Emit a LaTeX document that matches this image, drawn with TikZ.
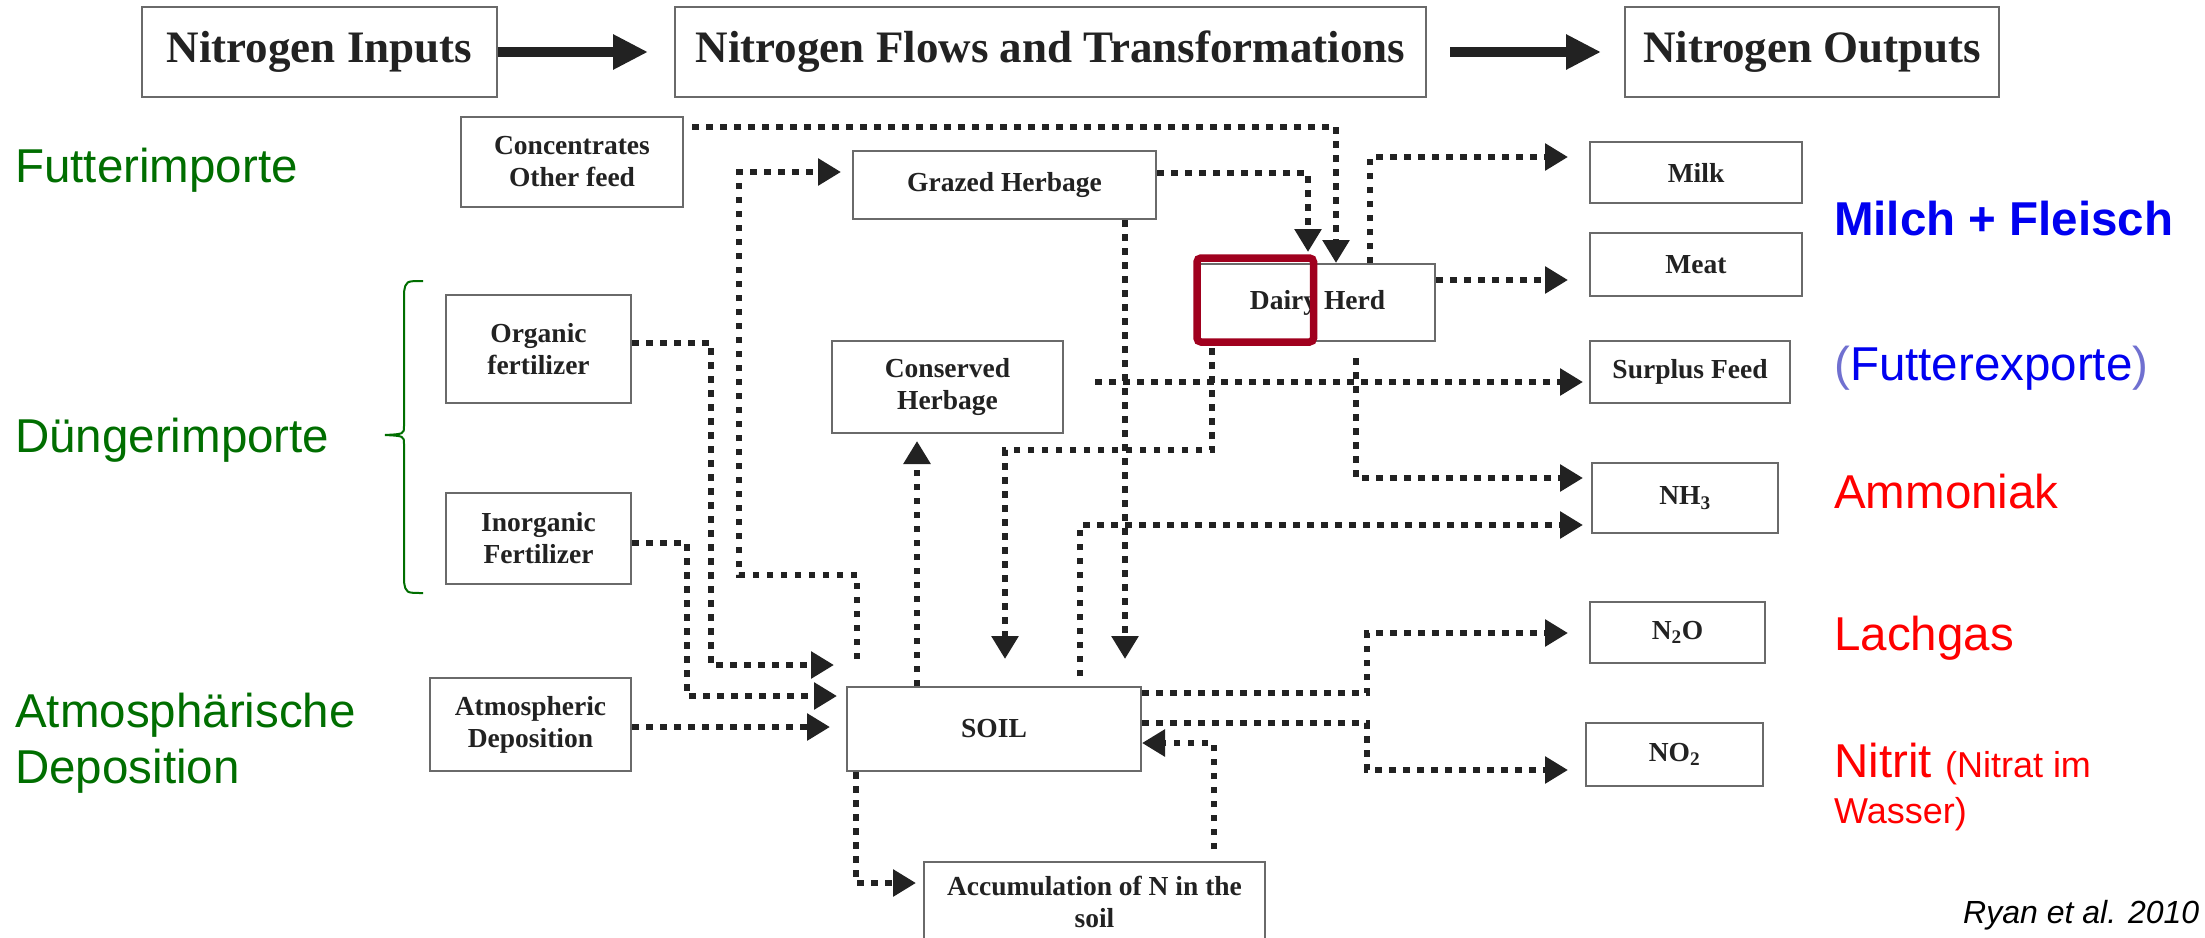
\documentclass[tikz,border=0pt]{standalone}
\usepackage{fontspec}
\setmainfont{Liberation Serif}
\newfontfamily\lsans{Liberation Sans}
\usetikzlibrary{arrows.meta}
\definecolor{ink}{HTML}{222222}
\definecolor{boxline}{HTML}{6A6A6A}
\definecolor{lgreen}{HTML}{006E00}
\definecolor{lblue}{HTML}{0000F0}
\definecolor{lpurple}{HTML}{7070D0}
\definecolor{lred}{HTML}{FF0000}
\definecolor{hlred}{HTML}{A0001E}
\begin{document}
\begin{tikzpicture}[x=1pt,y=-1pt,
  hbox/.style={draw=boxline, line width=2pt, fill=white, inner sep=0pt, text=ink, font=\bfseries\fontsize{45}{50}\selectfont},
  nbox/.style={draw=boxline, line width=2pt, fill=white, inner sep=0pt, text=ink, align=center, font=\bfseries\fontsize{27.5}{32}\selectfont},
  nflow/.style={draw=ink, line width=6.5pt, dash pattern=on 6.5pt off 7.5pt, -{Triangle[length=23pt,width=26pt]}},
  bigarrow/.style={draw=ink, line width=10pt, -{Triangle[length=35pt,width=33pt]}},
  lab/.style={font=\lsans\fontsize{47.5}{56}\selectfont, inner sep=0pt, anchor=base west},
]
\fill[white] (0,0) rectangle (2205,937);
\useasboundingbox (0,0) rectangle (2205,937);

% header boxes
\node[hbox, minimum width=355pt, minimum height=90pt] (hin) at (319.5,52) {Nitrogen Inputs};
\node[hbox, minimum width=751pt, minimum height=90pt] (hflow) at (1050.5,52) {Nitrogen Flows and Transformations};
\node[hbox, minimum width=374pt, minimum height=90pt] (hout) at (1812,52) {Nitrogen Outputs};
\draw[bigarrow, shorten >=26pt] (hin.east) -- (hflow.west);
\draw[bigarrow, shorten <=23pt, shorten >=23pt] (hflow.east) -- (hout.west);

% boxes
\node[nbox, minimum width=222pt, minimum height=90pt] (conc) at (572,162) {Concentrates\\Other feed};
\node[nbox, minimum width=303pt, minimum height=68pt] (grazed) at (1004.5,185) {Grazed Herbage};
\node[nbox, minimum width=185pt, minimum height=108pt] (orgf) at (538.5,349) {Organic\\fertilizer};
\node[nbox, minimum width=231pt, minimum height=92pt] (conserved) at (947.5,387) {Conserved\\Herbage};
\node[nbox, minimum width=185pt, minimum height=91pt] (inorg) at (538.5,538.5) {Inorganic\\Fertilizer};
\node[nbox, minimum width=201pt, minimum height=93pt] (atmo) at (530.5,724.5) {Atmospheric\\Deposition};
\node[nbox, minimum width=294pt, minimum height=84pt] (soil) at (994,729) {SOIL};
\node[nbox, minimum width=341pt, minimum height=80pt] (accum) at (1094.5,902) {Accumulation of N in the\\soil};
\node[nbox, minimum width=235pt, minimum height=77pt] (dairy) at (1317.5,302.5) {Dairy Herd};
\node[nbox, minimum width=212pt, minimum height=61pt] (milk) at (1696,172.5) {Milk};
\node[nbox, minimum width=212pt, minimum height=63pt] (meat) at (1696,264.5) {Meat};
\node[nbox, minimum width=200pt, minimum height=62pt] (surplus) at (1690,372) {Surplus Feed};
\node[nbox, minimum width=186pt, minimum height=70pt] (nh3) at (1685,498) {NH\textsubscript{3}};
\node[nbox, minimum width=175pt, minimum height=61pt] (n2o) at (1677.5,632.5) {N\textsubscript{2}O};
\node[nbox, minimum width=177pt, minimum height=63pt] (no2) at (1674.5,754.5) {NO\textsubscript{2}};

% connectors
\coordinate (gzend) at (1308,252);
\draw[nflow, shorten <=8pt] (conc.east |- 0,127) -| (1336,0 |- dairy.north);
\draw[nflow] (grazed.east |- 0,173) -| (gzend);
\draw[nflow, shorten >=21pt] (1370,0 |- dairy.north) |- (milk.west |- 0,157);
\draw[nflow, shorten >=21pt] (dairy.east |- 0,280) -- (meat.west |- 0,280);
\draw[nflow, shorten <=31pt, shorten >=6pt] (conserved.east |- 0,382) -- (surplus.west |- 0,382);
\draw[nflow, shorten <=16pt, shorten >=8pt] (1356,0 |- dairy.south) |- (nh3.west |- 0,478);
\draw[nflow, shorten <=6pt, shorten >=27pt] (1212,0 |- dairy.south) |- (1005,450) -- (1005,0 |- soil.north);
\draw[nflow, shorten >=27pt] (1125,0 |- grazed.south) -- (1125,0 |- soil.north);
\draw[nflow, shorten >=7pt] (917,0 |- soil.north) -- (917,0 |- conserved.south);
\draw[nflow, shorten <=27pt, shorten >=11pt] (857,0 |- soil.north) |- (739,575) |- (grazed.west |- 0,172);
\draw[nflow, shorten <=10pt, shorten >=8pt] (1080,0 |- soil.north) |- (nh3.west |- 0,525);
\draw[nflow, shorten >=12pt] (orgf.east |- 0,343) -| (711,665) -- (soil.west |- 0,665);
\draw[nflow, shorten >=9pt] (inorg.east |- 0,543) -| (687,696) -- (soil.west |- 0,696);
\draw[nflow, shorten >=16pt] (atmo.east |- 0,727) -- (soil.west |- 0,727);
\draw[nflow, shorten >=21pt] (soil.east |- 0,693) -| (1367,633) -- (n2o.west |- 0,633);
\draw[nflow, shorten >=17pt] (soil.east |- 0,723) -| (1367,770) -- (no2.west |- 0,770);
\draw[nflow, shorten >=7pt] (856,0 |- soil.south) |- (accum.west |- 0,883);
\draw[nflow, shorten <=12pt] (1214,0 |- accum.north) |- (soil.east |- 0,743);

% highlight
\draw[hlred, line width=7.5pt, rounded corners=4pt] (1197,258) rectangle (1313.5,342);

% brace
\draw[lgreen, line width=2pt] (423,281) .. controls (406,281) .. (404,292) -- (404,426) .. controls (404,434) .. (385,435) .. controls (404,436) .. (404,444) -- (404,582) .. controls (406,593) .. (423,593);

% labels
\node[lab, text=lgreen] (futimp) at (15,182) {Futterimporte};
\node[lab, text=lgreen] (dungimp) at (15,452) {Düngerimporte};
\node[lab, text=lgreen, anchor=north west, align=left] (atmlab) at (15,693) {Atmosphärische\\Deposition};
\node[lab, font=\lsans\bfseries\fontsize{47.5}{56}\selectfont, text=lblue] (mf) at (1834,235) {Milch + Fleisch};
\node[lab, text=lblue] (fe) at (1834,380) {\textcolor{lpurple}{(}Futterexporte\textcolor{lpurple}{)}};
\node[lab, text=lred] (amm) at (1834,508) {Ammoniak};
\node[lab, text=lred] (lach) at (1834,650) {Lachgas};
\node[lab, text=lred, anchor=north west, align=left] (nit) at (1834,743) {Nitrit {\fontsize{36}{46}\selectfont(Nitrat im}\\[-10pt]{\fontsize{36}{46}\selectfont Wasser)}};
\node[lab, font=\lsans\itshape\fontsize{32}{38}\selectfont, text=black] (ryan) at (1963,923) {Ryan et al. 2010};
\end{tikzpicture}
\end{document}
